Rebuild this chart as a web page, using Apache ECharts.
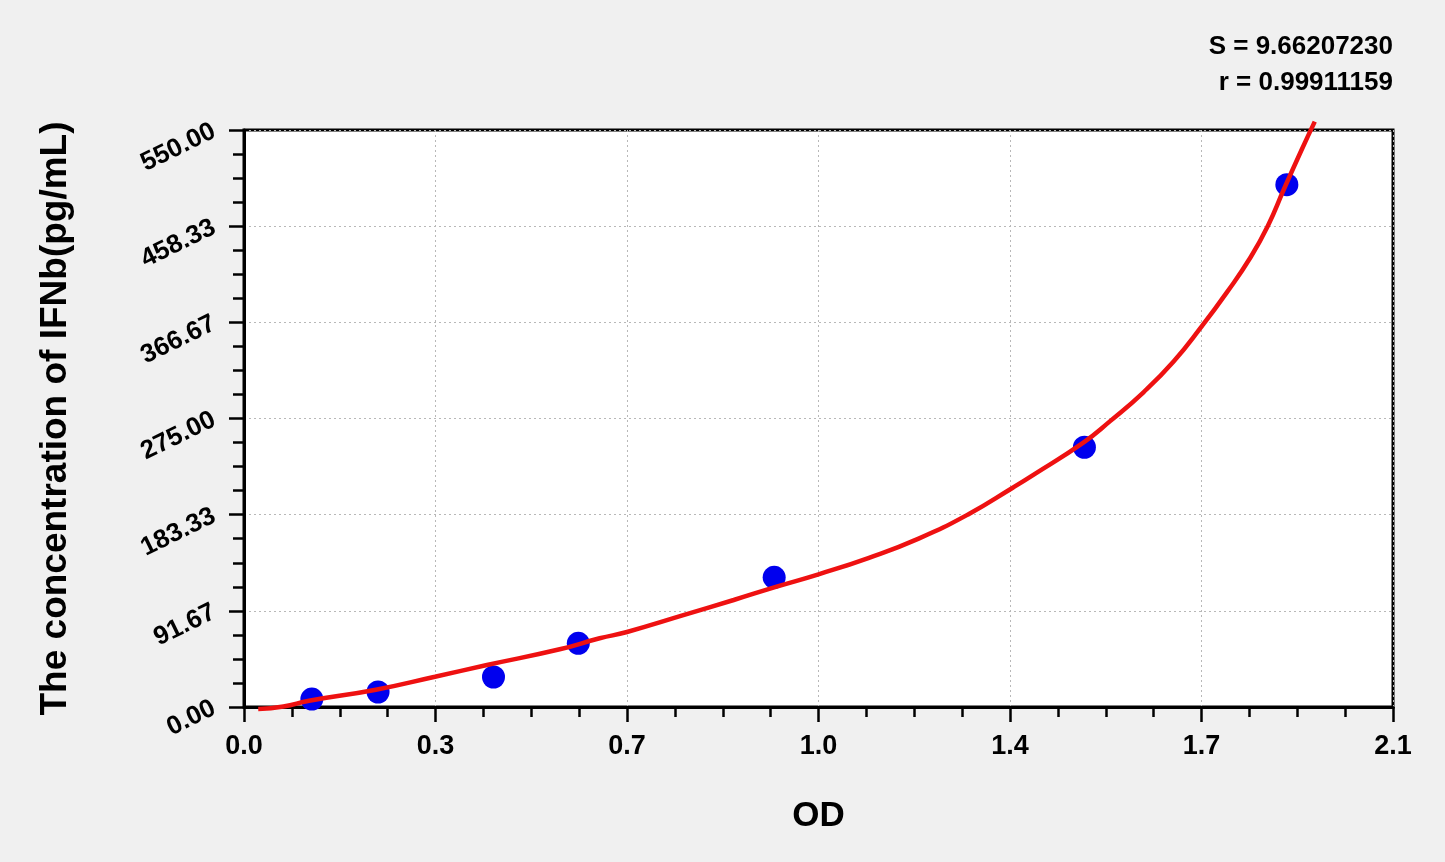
<!DOCTYPE html>
<html>
<head>
<meta charset="utf-8">
<script src="https://cdn.jsdelivr.net/npm/echarts@6/dist/echarts.min.js"></script>
<style>
  html, body { margin: 0; padding: 0; background: #f0f0f0; }
  #chart { width: 1445px; height: 862px; }
</style>
</head>
<body>
<div id="chart"></div>
<script>
// Standard points (OD, concentration)
const pointOD   = [0.124, 0.245, 0.456, 0.611, 0.969, 1.536, 1.906];
const pointConc = [7.6, 14.3, 28.6, 60.7, 123.6, 247.6, 497.9];

// Fitted curve
const curveOD   = [0.026, 0.072, 0.119, 0.241, 0.349, 0.444, 0.577, 0.650, 0.700, 0.803, 0.895, 0.972, 1.050, 1.141, 1.233, 1.325, 1.405, 1.442, 1.534, 1.583, 1.644, 1.699, 1.750, 1.797, 1.840, 1.871, 1.901, 1.932, 1.957];
const curveConc = [-2.0, 0.5, 6.0, 16.5, 28.9, 40.0, 55.0, 65.5, 71.5, 87.5, 102.0, 114.5, 126.5, 142.0, 160.5, 184.0, 209.0, 221.0, 252.0, 272.5, 300.0, 329.3, 362.5, 395.7, 428.9, 458.3, 494.0, 530.0, 558.0];

// Tick labels as printed
const xTickLabels = ['0.0', '0.3', '0.7', '1.0', '1.4', '1.7', '2.1'];
const yTickLabels = ['0.00', '91.67', '183.33', '275.00', '366.67', '458.33', '550.00'];

const statLines = ['S = 9.66207230', 'r = 0.99911159'];

const FONT = '"Liberation Sans", Arial, sans-serif';
const chart = echarts.init(document.getElementById('chart'));

const gridLine = { show: true, lineStyle: { color: '#b8b8b8', type: [2, 3], width: 1 } };

chart.setOption({
  backgroundColor: '#f0f0f0',
  animation: false,
  graphic: [{
    type: 'text', right: 52, top: 29,
    style: {
      text: statLines.join('\n'), fill: '#000', textAlign: 'right',
      font: 'bold 26px ' + FONT, lineHeight: 36,
    },
  }],
  grid: {
    left: 244, right: 52, top: 130, bottom: 155,
    show: true, backgroundColor: '#fff', borderColor: '#000', borderWidth: 3,
  },
  xAxis: {
    type: 'value', min: 0, max: 2.1, interval: 0.35,
    name: 'OD', nameLocation: 'middle', nameGap: 92,
    nameTextStyle: { fontFamily: FONT, fontWeight: 'bold', fontSize: 35, color: '#000' },
    axisLine: { show: true, lineStyle: { color: '#000', width: 3 } },
    axisTick: { show: true, length: 15, lineStyle: { color: '#000', width: 2.5 } },
    minorTick: { show: true, splitNumber: 4, length: 10, lineStyle: { color: '#000', width: 2.5 } },
    axisLabel: {
      margin: 26, fontFamily: FONT, fontWeight: 'bold', fontSize: 27, color: '#000',
      formatter: v => xTickLabels[Math.round(v / 0.35)],
    },
    splitLine: gridLine,
  },
  yAxis: {
    type: 'value', min: 0, max: 550, interval: 550 / 6,
    name: 'The concentration of IFNb(pg/mL)', nameLocation: 'middle', nameGap: 170,
    nameTextStyle: { fontFamily: FONT, fontWeight: 'bold', fontSize: 37, color: '#000' },
    axisLine: { show: true, lineStyle: { color: '#000', width: 3 } },
    axisTick: { show: true, length: 15, lineStyle: { color: '#000', width: 2.5 } },
    minorTick: { show: true, splitNumber: 4, length: 11, lineStyle: { color: '#000', width: 2.5 } },
    axisLabel: {
      margin: 30, rotate: 26, fontFamily: FONT, fontWeight: 'bold', fontSize: 26, color: '#000',
      formatter: v => yTickLabels[Math.round(v / (550 / 6))],
    },
    splitLine: gridLine,
  },
  series: [
    {
      name: 'fit', type: 'line', smooth: 0.5, showSymbol: false, clip: false, z: 3,
      lineStyle: { color: '#ee1111', width: 4.5 },
      data: curveOD.map((x, i) => [x, curveConc[i]]),
    },
    {
      name: 'standards', type: 'scatter', symbolSize: 23, z: 2,
      itemStyle: { color: '#0000ee', opacity: 1 },
      data: pointOD.map((x, i) => [x, pointConc[i]]),
    },
  ],
});
</script>
</body>
</html>
